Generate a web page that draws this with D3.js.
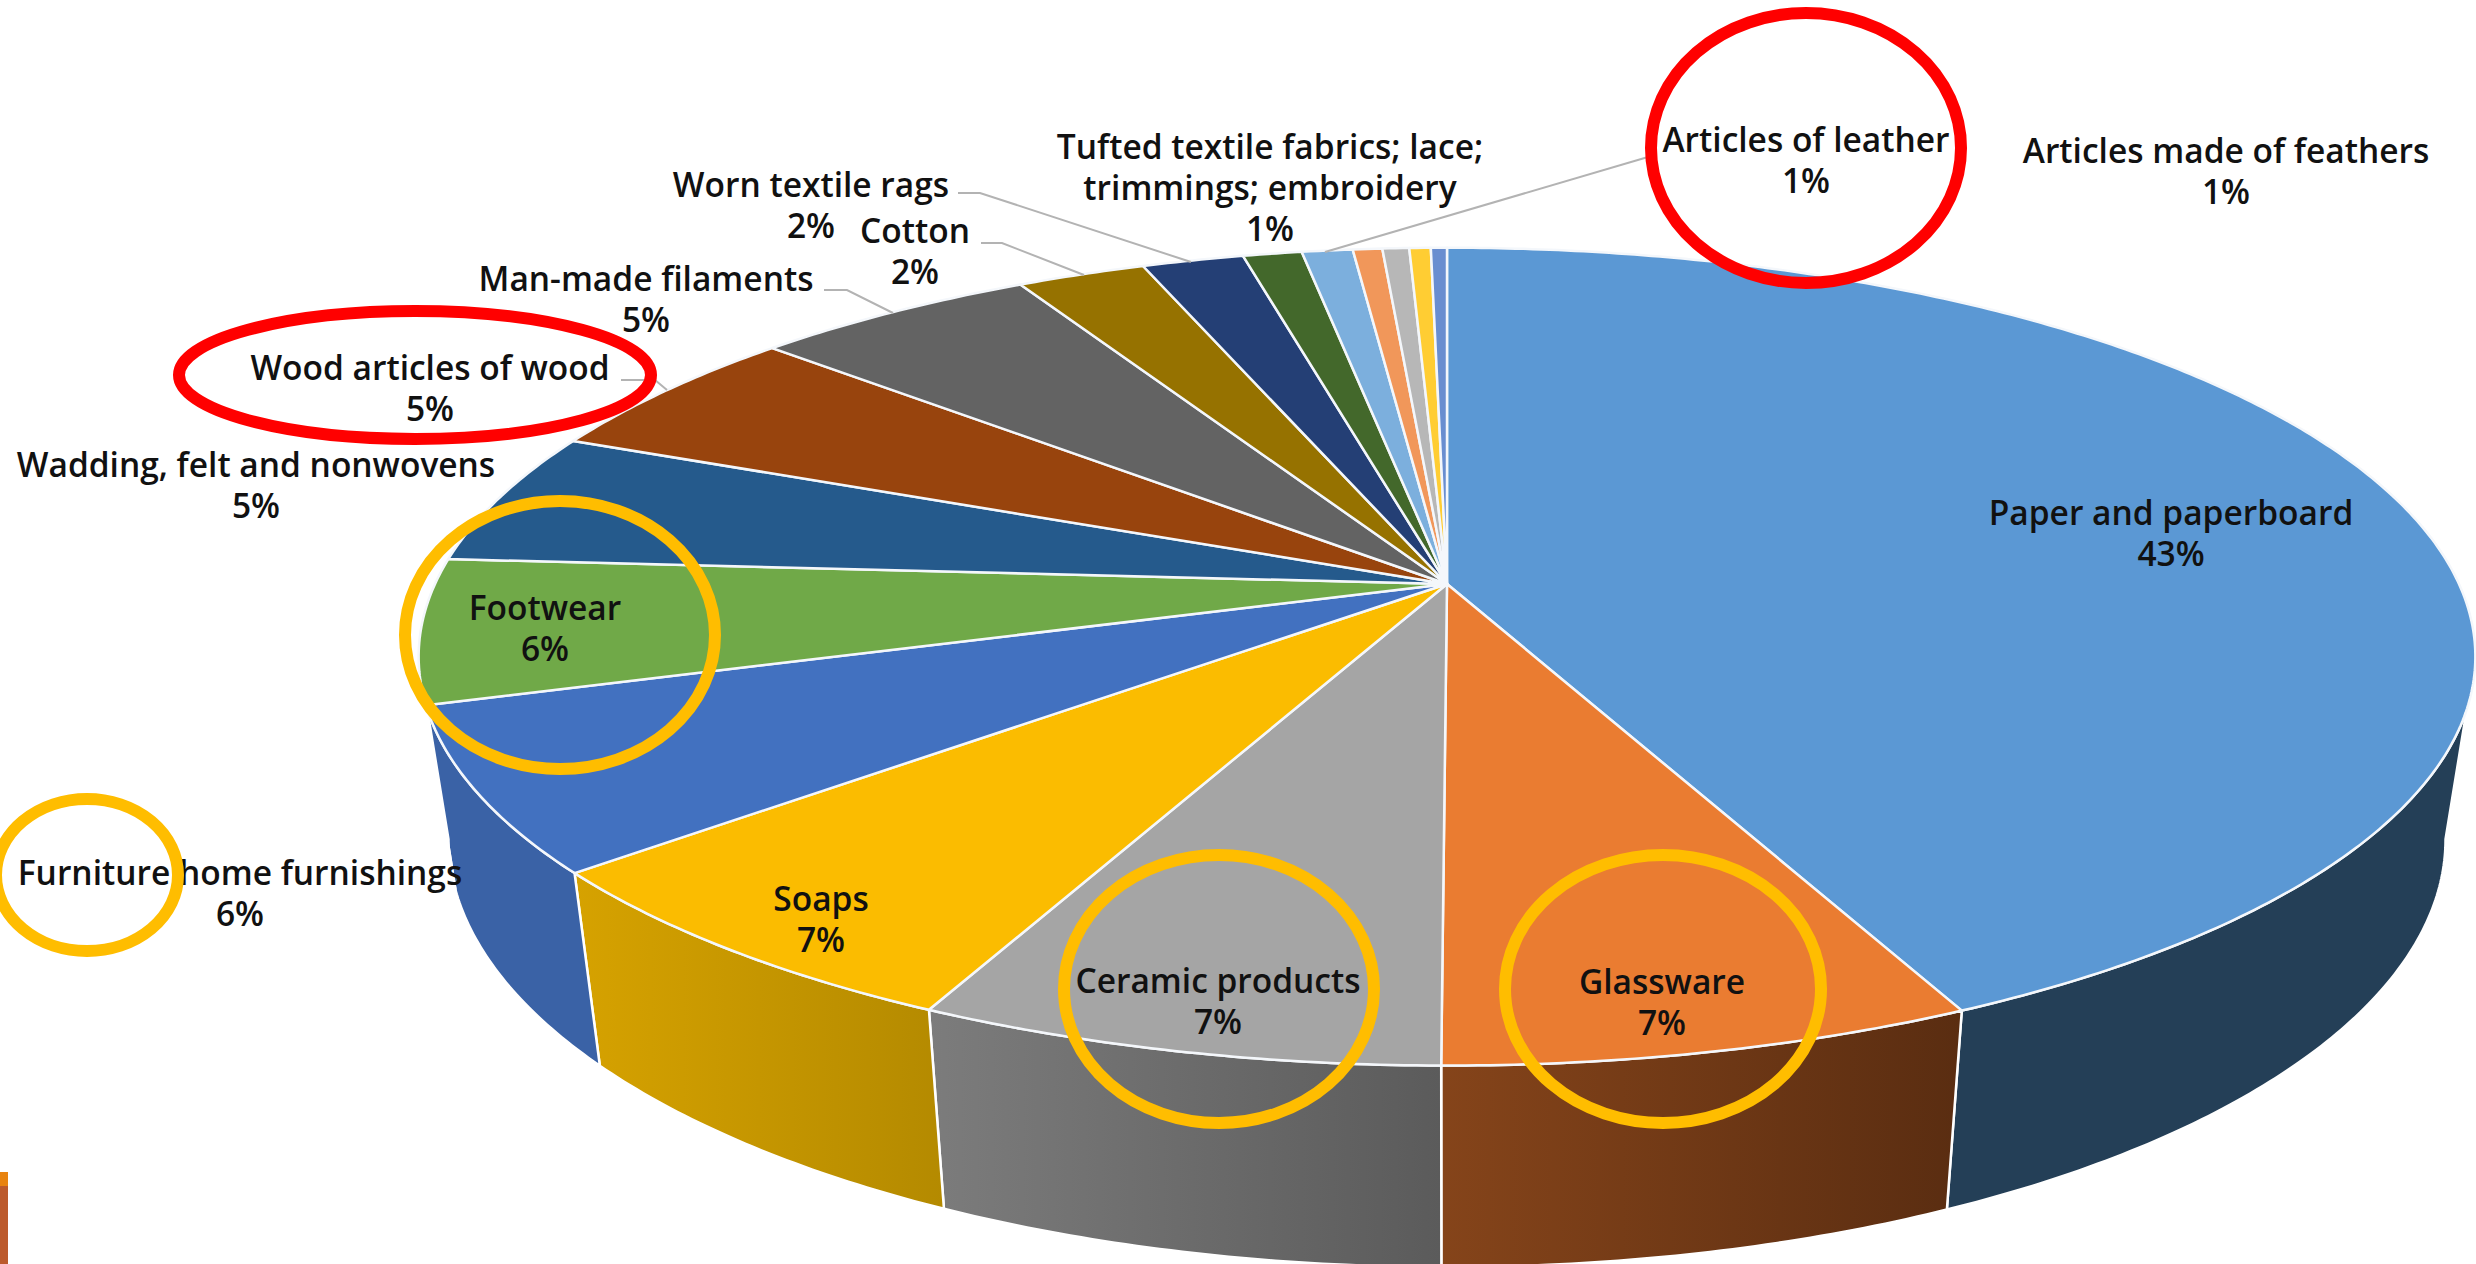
<!DOCTYPE html>
<html><head><meta charset="utf-8">
<script src="https://cdn.jsdelivr.net/npm/d3@7/dist/d3.min.js"></script>
<style>html,body{margin:0;padding:0;background:#fff;overflow:hidden}svg{display:block}
text{font-family:"Open Sans",sans-serif;font-weight:600;fill:#111;text-anchor:middle}</style>
</head><body>
<script>
const categories=["Paper and paperboard","Glassware","Ceramic products","Soaps","Furniture home furnishings","Footwear","Wadding, felt and nonwovens","Wood articles of wood","Man-made filaments","Cotton","Worn textile rags","Tufted textile fabrics; lace; trimmings; embroidery","Articles of leather","Articles made of feathers","Other 1","Other 2","Other 3"];
const values=[43,7.1,7,6.75,6.5,5.7,5.3,5.3,5.3,2.4,1.9,1.1,0.95,0.55,0.5,0.4,0.3];
const percentLabels=["43%","7%","7%","7%","6%","6%","5%","5%","5%","2%","2%","1%","1%","1%","","",""];
const topColors=["#5b98d4","#ea7c31","#a5a5a5","#fbbc00","#4271c0","#70a948","#255a8c","#98440d","#636363","#967200","#243f75","#43682b","#7cafdd","#f1975a","#b7b7b7","#ffcd33","#698ed0"];
const wallColors=[["#243f57","#243f57"],["#85441a","#5a2d11"],["#7c7c7c","#5b5b5b"],["#d6a200","#b48a00"],["#3a62a6","#3a62a6"],["#5b8c3a","#5b8c3a"]];
const W=2476,H=1264;
const svg=d3.select("body").append("svg").attr("width",W).attr("height",H);
const defs=svg.append("defs");
// perspective-disc parameters
const P={x:1447,y:584,A:1012,B:396,k:0.1776};
const proj=a=>{const x=Math.sin(a),y=-Math.cos(a),w=1-P.k*y;return [P.x+P.A*x/w,P.y+P.B*y/w];};
const base=([X,Y])=>{const h=199+0.046*(Y-1011);return [P.x+(X-P.x)*0.971,Y+h];};
const pie=d3.pie().sort(null).value(d=>d)(values);
const samples=(a0,a1)=>{const n=Math.max(2,Math.ceil((a1-a0)/0.01));return d3.range(n+1).map(i=>a0+(a1-a0)*i/n);};
const line=d3.line();
const edge=Math.PI-Math.acos(P.k);
const wallMin=edge,wallMax=2*Math.PI-edge;
// walls
const walls=svg.append("g");
pie.forEach((d,i)=>{
  const a0=Math.max(d.startAngle,wallMin),a1=Math.min(d.endAngle,wallMax);
  if(a1<=a0)return;
  const top=samples(a0,a1).map(proj);
  const pts=top.concat(top.map(base).reverse());
  const c=wallColors[i]||[topColors[i],topColors[i]];
  const id="wall"+i;
  const g=defs.append("linearGradient").attr("id",id);
  g.append("stop").attr("offset",0).attr("stop-color",c[0]);
  g.append("stop").attr("offset",1).attr("stop-color",c[1]);
  walls.append("path").attr("d",line(pts)+"Z").attr("fill",`url(#${id})`).attr("stroke","#fff").attr("stroke-width",2.5).attr("stroke-linejoin","round");
});
// top face
const topG=svg.append("g");
pie.forEach((d,i)=>{
  const pts=[[P.x,P.y]].concat(samples(d.startAngle,d.endAngle).map(proj));
  topG.append("path").attr("d",line(pts)+"Z").attr("fill",topColors[i]).attr("stroke","#f4f7fb").attr("stroke-width",2.5).attr("stroke-linejoin","round");
});
// leader lines
const leaders=[[[1648,157],[1325,252]],[[958,193],[980,193],[1191,262]],[[981,243],[1002,243],[1084,275]],[[824,290],[847,290],[893,313]],[[621,380],[655,380],[667,390]]];
svg.append("g").selectAll("path").data(leaders).join("path").attr("d",d=>line(d)).attr("fill","none").attr("stroke","#b3b3b3").attr("stroke-width",2);
// labels: [category index, centre x, first baseline y]
const labelPos=[[0,2171,525],[1,1662,994],[2,1218,993],[3,821,911],[4,240,885],[5,545,620],[6,256,477],[7,430,380],[8,646,291],[9,915,243],[10,811,197],[11,1270,159],[12,1806,152],[13,2226,163]];
const wraps={11:["Tufted textile fabrics; lace;","trimmings; embroidery"]};
const fs=33.5,lh=41;
const tg=svg.append("g").attr("font-size",fs);
labelPos.forEach(([i,x,y])=>{
  const rows=(wraps[i]||[categories[i]]).concat(percentLabels[i]);
  const t=tg.append("text");
  rows.forEach((r,j)=>t.append("tspan").attr("x",x).attr("y",y+j*lh).text(r));
});
// hand-drawn rings
const redRings=[[1806,148,155,135],[415,375,236,64]];
const amberRings=[[560,635,155,134],[1219,989,155,134],[1663,989,158,134],[87,875,91,76]];
const rg=svg.append("g").attr("fill","none");
rg.selectAll(".r").data(redRings).join("ellipse").attr("class","r").attr("cx",d=>d[0]).attr("cy",d=>d[1]).attr("rx",d=>d[2]).attr("ry",d=>d[3]).attr("stroke","#ff0000").attr("stroke-width",12);
rg.selectAll(".a").data(amberRings).join("ellipse").attr("class","a").attr("cx",d=>d[0]).attr("cy",d=>d[1]).attr("rx",d=>d[2]).attr("ry",d=>d[3]).attr("stroke","#ffbd00").attr("stroke-width",12);
// slide-edge decoration at bottom-left
const deco=[["#e8830f",1172,14],["#bc5a2c",1186,78]];
svg.selectAll(".deco").data(deco).join("rect").attr("class","deco").attr("x",0).attr("y",d=>d[1]).attr("width",8).attr("height",d=>d[2]).attr("fill",d=>d[0]);
</script>
</body></html>
